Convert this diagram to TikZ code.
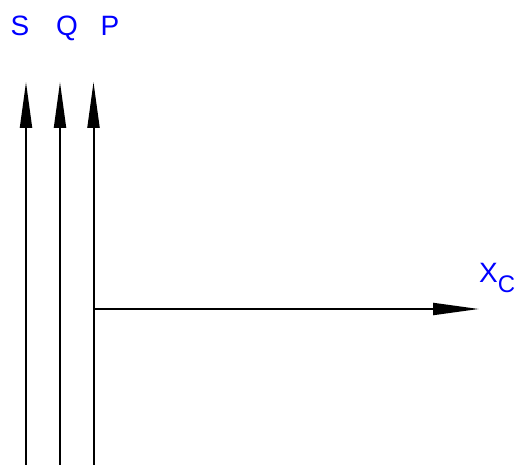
\documentclass[tikz,border=0pt]{standalone}
\usepackage{fontspec}
\setmainfont{Liberation Sans}
\usetikzlibrary{arrows.meta}
\definecolor{lblblue}{RGB}{0,0,255}
\def\AxTop{82}
\def\AxBot{465}
\def\AxY{309}
\tikzset{
  axarr/.style={-{Triangle[length=46pt,width=12pt]}, line width=2pt, draw=black},
  axlbl/.style={
    anchor=base, inner sep=0pt, text=lblblue,
    font=\fontsize{28pt}{32pt}\selectfont,
  },
}

\begin{document}
\begin{tikzpicture}[x=1pt,y=-1pt]
  \useasboundingbox (0,0) rectangle (519,465);

  % vertical axes
  \coordinate (sBot) at (26,\AxBot);
  \coordinate (sTop) at (26,\AxTop);
  \coordinate (qBot) at (60,\AxBot);
  \coordinate (qTop) at (60,\AxTop);
  \coordinate (pBot) at (93.5,\AxBot);
  \coordinate (pTop) at (93.5,\AxTop);
  \coordinate (pMid) at (93.5,\AxY);
  \coordinate (xcTip) at (479,\AxY);

  \draw[axarr] (sBot) -- (sTop);
  \draw[axarr] (qBot) -- (qTop);
  \draw[axarr] (pBot) -- (pTop);
  \draw[axarr] (pMid) -- (xcTip);

  % labels
  \node[axlbl] (sLbl) at (20,36) {S};
  \node[axlbl] (qLbl) at (67,36) {Q};
  \node[axlbl] (pLbl) at (110,36) {P};
  \node[axlbl, anchor=base west] (xcLbl) at (479,282)
    {X\raisebox{-10pt}{\fontsize{24pt}{28pt}\selectfont C}};
\end{tikzpicture}
\end{document}
